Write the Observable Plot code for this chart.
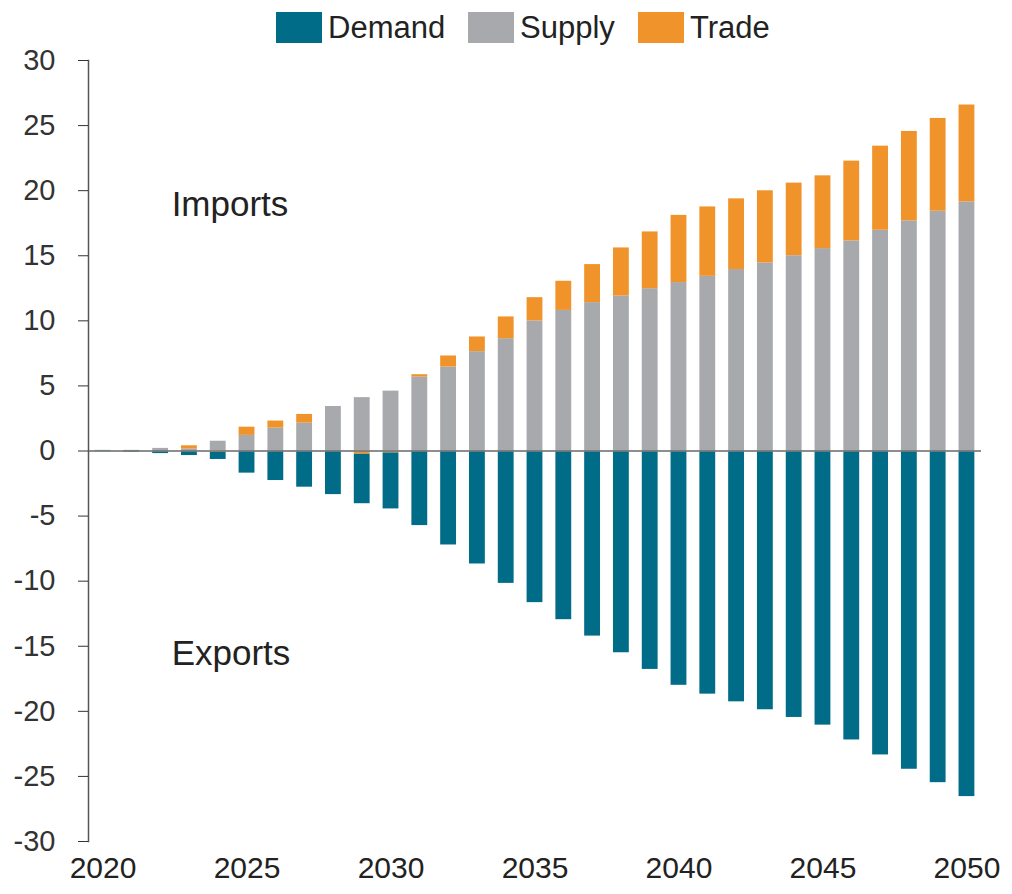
<!DOCTYPE html>
<html>
<head>
<meta charset="utf-8">
<script src="https://cdn.jsdelivr.net/npm/d3@7"></script>
<script src="https://cdn.jsdelivr.net/npm/@observablehq/plot@0.6"></script>
<style>
  html, body { margin: 0; padding: 0; background: #fff; }
  body { width: 1012px; height: 894px; overflow: hidden; font-family: "Liberation Sans", Arial, sans-serif; }
  #legend { position: relative; height: 40px; }
  .item { position: absolute; top: 12px; display: flex; align-items: center; height: 31px; }
  .sw { width: 46px; height: 31px; margin-right: 6px; }
  .lab { font-size: 31px; color: #222; line-height: 31px; }
</style>
</head>
<body>
<div id="legend"></div>
<div id="chart"></div>
<script>
const years = [2020,2021,2022,2023,2024,2025,2026,2027,2028,2029,2030,2031,2032,2033,2034,2035,2036,2037,2038,2039,2040,2041,2042,2043,2044,2045,2046,2047,2048,2049,2050];
const supply = [0.05,0.05,0.2,0.15,0.75,1.2,1.76,2.14,3.42,4.1,4.6,5.68,6.45,7.63,8.63,9.99,10.8,11.4,11.9,12.47,12.94,13.42,13.94,14.45,15.0,15.55,16.14,16.96,17.68,18.42,19.14];
const trade  = [0,0,0,0.25,-0.1,0.63,0.54,0.67,0,-0.25,-0.15,0.18,0.85,1.13,1.67,1.79,2.24,2.92,3.7,4.36,5.16,5.33,5.43,5.54,5.58,5.59,6.13,6.46,6.87,7.13,7.44];
const demand = [-0.05,-0.1,-0.2,-0.35,-0.55,-1.7,-2.27,-2.78,-3.35,-3.8,-4.3,-5.73,-7.22,-8.68,-10.17,-11.65,-12.96,-14.22,-15.5,-16.78,-18.0,-18.68,-19.27,-19.88,-20.47,-21.06,-22.2,-23.35,-24.45,-25.48,-26.55];
const seriesNames = ["Demand","Supply","Trade"];
const seriesColors = ["#006c87","#a7a9ac","#f0932b"];
const stackOrder = ["Supply","Trade","Demand"];
const yTicks = [-30,-25,-20,-15,-10,-5,0,5,10,15,20,25,30];
const xTicks = [2020,2025,2030,2035,2040,2045,2050];
const labels = ["Imports","Exports"];
const labelYears = [2022,2022];
const labelValues = [18.9,-15.6];

const rows = years.flatMap((yr, i) => [
  {year: yr, series: "Supply", value: supply[i]},
  {year: yr, series: "Trade", value: trade[i]},
  {year: yr, series: "Demand", value: demand[i]}
]);
const labelRows = labels.map((t, i) => ({text: t, year: labelYears[i], value: labelValues[i]}));

// legend
const legendLefts = [276, 468, 638];
const legend = document.getElementById("legend");
seriesNames.forEach((s, i) => {
  const it = document.createElement("div");
  it.className = "item";
  it.style.left = legendLefts[i] + "px";
  it.innerHTML = `<div class="sw" style="background:${seriesColors[i]}"></div><div class="lab">${s}</div>`;
  legend.appendChild(it);
});

const plot = Plot.plot({
  width: 1012,
  height: 854,
  marginLeft: 88,
  marginRight: 31,
  marginTop: 20,
  marginBottom: 53,
  style: {fontFamily: '"Liberation Sans", Arial, sans-serif', background: "#fff", overflow: "visible"},
  x: {type: "band", domain: years, paddingInner: 0.45, paddingOuter: 0.23, round: false, axis: null, label: null},
  y: {domain: [-30, 30], axis: null, label: null},
  color: {domain: seriesNames, range: seriesColors},
  marks: [
    Plot.barY(rows, {x: "year", y: "value", fill: "series", order: stackOrder}),
    Plot.ruleY([0], {stroke: "#7a7a7a", strokeWidth: 2, strokeOpacity: 0.85}),
    Plot.frame({anchor: "left", stroke: "#555", strokeWidth: 1.5}),
    Plot.axisY({ticks: yTicks, tickSize: 10, tickPadding: 23, tickFormat: d => String(d), fontSize: 29, color: "#333", label: null}),
    Plot.axisX({ticks: xTicks, tickSize: 0, tickPadding: 15, tickFormat: d => String(d), fontSize: 30, color: "#222", label: null}),
    Plot.text(labelRows, {x: "year", y: "value", text: "text", textAnchor: "start", lineAnchor: "middle", dx: 11, fontSize: 35, fill: "#222"})
  ]
});
document.getElementById("chart").appendChild(plot);
</script>
</body>
</html>
